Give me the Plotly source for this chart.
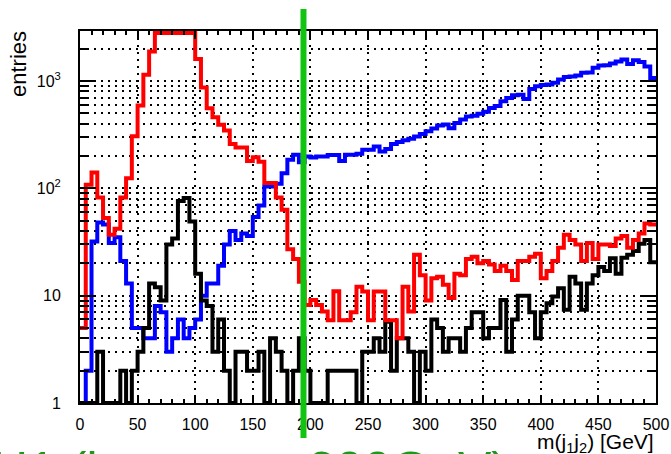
import plotly.graph_objects as go

# ---------------- data ----------------
BIN_WIDTH = 5          # GeV
N_BINS = 100
bin_edges = [i * BIN_WIDTH for i in range(N_BINS + 1)]

# red histogram (bins 13-19 run off the top of the frame)
red_counts = [
    5, 108, 140, 82, 53, 37, 42, 82, 124, 305,
    590, 1140, 1880, 2800, 2800, 2800, 2800, 2800, 2800, 2800,
    1600, 870, 557, 460, 390, 345, 258, 240, 240, 180,
    195, 177, 112, 112, 82, 63, 27, 22, 13.5, 8.2,
    9.1, 8.2, 7.1, 5.9, 11, 5.9, 5.9, 7, 12.1, 10.9,
    5.9, 10.9, 10.9, 5.9, 5.9, 4, 12.1, 7.1, 24, 15.5,
    9, 14.5, 15, 12.6, 9.5, 16, 15.5, 22, 23, 20,
    21, 19.5, 17, 19, 17, 14, 21, 21, 23, 24.5,
    14.5, 17, 21, 28, 37, 33, 30, 21, 31, 22,
    30, 30, 29, 34, 36, 28, 33, 38, 47, 46,
]

blue_counts = [
    1, 2, 32, 48, 46, 31, 35, 21, 13, 5,
    5, 4, 4, 8, 7, 3, 4, 6, 4, 5,
    6, 10, 13, 13, 19, 30, 40, 33, 38, 36,
    54, 69, 104, 104, 110, 138, 184, 205, 175, 198,
    193, 198, 198, 204, 204, 180, 205, 205, 210, 228,
    228, 245, 220, 232, 258, 270, 280, 290, 303, 320,
    340, 360, 385, 392, 362, 405, 437, 466, 475, 495,
    515, 560, 585, 645, 695, 735, 745, 678, 840, 890,
    915, 925, 960, 1030, 1085, 1100, 1125, 1190, 1200, 1330,
    1390, 1400, 1450, 1520, 1580, 1440, 1560, 1500, 1360, 1065,
]

black_counts = [
    1, 1, 1, 3, 1, 1, 1, 2, 1, 2,
    3, 5, 13, 12, 9, 30, 34, 76, 81, 49,
    16, 9, 8, 3, 6, 2, 1, 3, 3, 2,
    2, 3, 1, 4, 3, 2, 1, 2, 4, 2,
    1, 1, 1, 2, 2, 2, 2, 2, 1, 3,
    3, 4, 3, 5.7, 2, 4, 4, 3, 1, 3,
    2, 6, 5, 3, 4, 4, 3, 5, 7, 7,
    4, 5, 5, 9.1, 3, 6, 10, 10, 7, 4,
    7, 8.5, 9.8, 11.7, 7.4, 15, 13, 7.4, 13, 15.5,
    18.5, 17, 22.3, 16, 22.5, 24, 26, 30.5, 33, 20.5,
]

X_TICK_VALS = list(range(0, 501, 50))
Y_TICK_VALS = [1, 10, 100, 1000]
Y_TICK_TEXT = ["1", "10", "10<sup>2</sup>", "10<sup>3</sup>"]
Y_MINOR_VALS = [m * 10 ** d for d in range(4) for m in range(2, 10) if m * 10 ** d < 2900]
Y_LOG_MAX = 3.465          # top of frame ~ 2.9e3
CUT_MASS = 194             # green vertical marker

Y_TITLE = "entries"
X_TITLE = "m(j<sub>1</sub>j<sub>2</sub>) [GeV]"
CAPTION = "H1 (inv. mass 200GeV)"

FONT = "Liberation Sans, Arial, Helvetica, sans-serif"
GRID_DASH = "2px,5px"

# ---------------- figure ----------------
fig = go.Figure()

for counts, color in [(blue_counts, "#0000ff"), (black_counts, "#000000"), (red_counts, "#ff0000")]:
    fig.add_trace(go.Scatter(
        x=bin_edges,
        y=counts + [counts[-1]],
        mode="lines",
        line=dict(color=color, width=4, shape="hv"),
        hoverinfo="skip",
    ))

fig.update_layout(
    width=671, height=454,
    margin=dict(l=80, r=15, t=31, b=51, autoexpand=False),
    paper_bgcolor="white", plot_bgcolor="white",
    showlegend=False,
    font=dict(family=FONT, color="black", size=16),
)

fig.update_xaxes(
    range=[0, 500],
    tickmode="array", tickvals=X_TICK_VALS,
    ticks="inside", ticklen=8, tickwidth=1.5, tickcolor="black",
    showline=True, linecolor="black", linewidth=2, mirror="allticks",
    showgrid=True, gridcolor="black", gridwidth=1.5, griddash=GRID_DASH,
    zeroline=False,
    tickfont=dict(size=16, family=FONT),
    ticklabelstandoff=6,
    minor=dict(dtick=10, tick0=0, ticks="inside", ticklen=4, tickwidth=1.5,
               tickcolor="black", showgrid=False),
)

fig.update_yaxes(
    type="log", range=[0, Y_LOG_MAX],
    tickmode="array", tickvals=Y_TICK_VALS, ticktext=Y_TICK_TEXT,
    ticks="inside", ticklen=16, tickwidth=1.5, tickcolor="black",
    showline=True, linecolor="black", linewidth=2, mirror="allticks",
    showgrid=True, gridcolor="black", gridwidth=1.5, griddash=GRID_DASH,
    zeroline=False,
    tickfont=dict(size=16, family=FONT),
    ticklabelstandoff=14,
    minor=dict(tickmode="array", tickvals=Y_MINOR_VALS, ticks="inside",
               ticklen=9, tickwidth=1.5, tickcolor="black",
               showgrid=True, gridcolor="black", gridwidth=1.5, griddash=GRID_DASH),
)

# green marker line
fig.add_shape(type="line", xref="x", yref="paper",
              x0=CUT_MASS, x1=CUT_MASS, y0=-0.094, y1=1.059,
              line=dict(color="#11c411", width=6), layer="above")

# axis titles
fig.add_annotation(text=Y_TITLE, xref="paper", yref="paper",
                   x=-0.1068, y=0.9126, xanchor="center", yanchor="middle",
                   textangle=-90, showarrow=False,
                   font=dict(size=22, family=FONT, color="black"))
fig.add_annotation(text=X_TITLE, xref="paper", yref="paper",
                   x=1.0, y=-0.068, xanchor="right", yanchor="top",
                   showarrow=False,
                   font=dict(size=21, family=FONT, color="black"))

# large green caption, mostly cut off by the page bottom
fig.add_annotation(text=CAPTION, xref="paper", yref="paper",
                   x=-0.156, y=-0.179, xanchor="left", yanchor="middle",
                   showarrow=False,
                   font=dict(size=50, family=FONT, color="#1a9a1a"))

fig.write_html("out.html")
